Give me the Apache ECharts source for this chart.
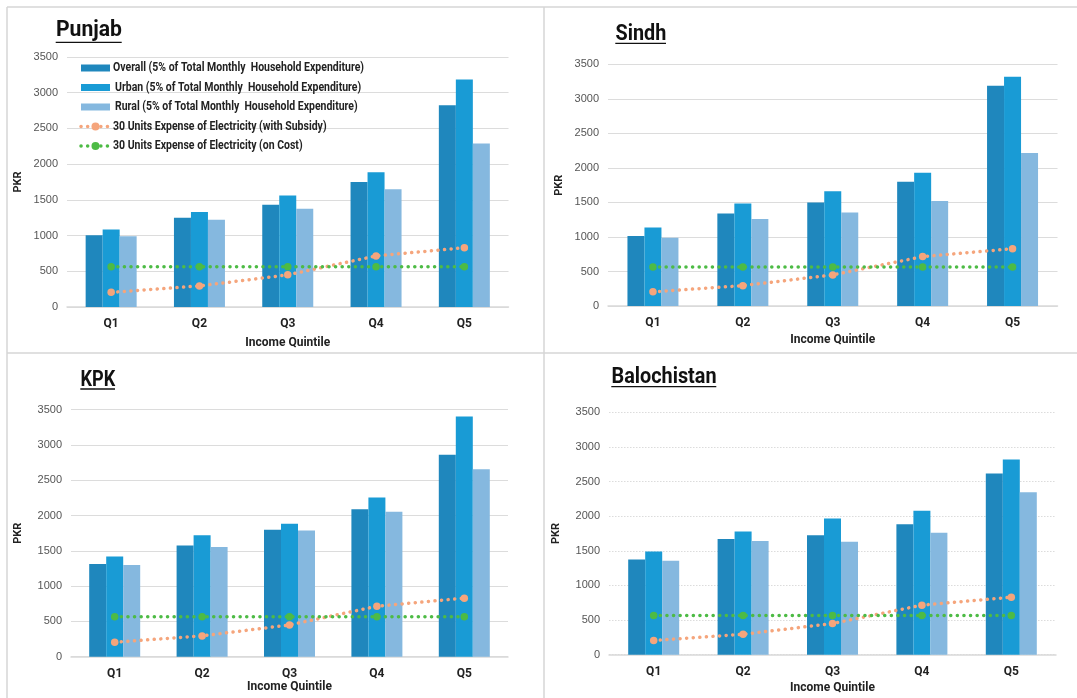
<!DOCTYPE html>
<html>
<head>
<meta charset="utf-8">
<script src="https://cdn.jsdelivr.net/npm/echarts@6/dist/echarts.min.js"></script>
<style>
html,body{margin:0;padding:0;background:#fff;}
#chart{width:1077px;height:698px;}
</style>
</head>
<body>
<div id="chart"></div>
<script>
// ---- data ----
const categories = ['Q1', 'Q2', 'Q3', 'Q4', 'Q5'];
const yTicks = [0, 500, 1000, 1500, 2000, 2500, 3000, 3500];
const seriesNames = [
  'Overall (5% of Total Monthly  Household Expenditure)',
  'Urban (5% of Total Monthly  Household Expenditure)',
  'Rural (5% of Total Monthly  Household Expenditure)',
  '30 Units Expense of Electricity (with Subsidy)',
  '30 Units Expense of Electricity (on Cost)'
];
const regionTitles = ['Punjab', 'Sindh', 'KPK', 'Balochistan'];

const punjabOverall = [1005, 1250, 1430, 1750, 2825];
const punjabUrban   = [1085, 1330, 1560, 1885, 3185];
const punjabRural   = [990, 1220, 1375, 1650, 2290];

const sindhOverall = [1015, 1340, 1500, 1800, 3190];
const sindhUrban   = [1135, 1485, 1660, 1930, 3320];
const sindhRural   = [990, 1260, 1355, 1520, 2215];

const kpkOverall = [1315, 1575, 1800, 2090, 2860];
const kpkUrban   = [1420, 1720, 1885, 2255, 3405];
const kpkRural   = [1300, 1555, 1790, 2055, 2655];

const balochOverall = [1375, 1670, 1725, 1885, 2615];
const balochUrban   = [1490, 1780, 1965, 2080, 2820];
const balochRural   = [1355, 1640, 1630, 1760, 2345];

const withSubsidy = [205, 295, 450, 715, 830];
const onCost      = [565, 565, 565, 565, 565];

// ---- layout / style ----
const colors = ['#1f87bd', '#199bd5', '#85b8df', '#f5a57c', '#4dbb45'];
const boldFont = 'Roboto, "Liberation Sans", sans-serif';
const tickFont = '"Liberation Sans", Arial, sans-serif';

const measureCtx = document.createElement('canvas').getContext('2d');
function textWidth(text, font) { measureCtx.font = font; return measureCtx.measureText(text).width; }

const panels = [
  { bars: [punjabOverall, punjabUrban, punjabRural], grid: {left: 67, top: 57, width: 441.5, height: 250},
    xNameGap: 30, yNameGap: 43, dotted: false },
  { bars: [sindhOverall, sindhUrban, sindhRural], grid: {left: 608, top: 64.3, width: 449.5, height: 241.7},
    xNameGap: 28, yNameGap: 43, dotted: false },
  { bars: [kpkOverall, kpkUrban, kpkRural], grid: {left: 71, top: 409.7, width: 437, height: 247},
    xNameGap: 22, yNameGap: 47, dotted: false },
  { bars: [balochOverall, balochUrban, balochRural], grid: {left: 609, top: 412.3, width: 447, height: 242.4},
    xNameGap: 27, yNameGap: 47, dotted: true }
];

const titlePos = [
  {x: 56, cy: 30.7, ul: [55.7, 121.7, 42.3]},
  {x: 615.5, cy: 34.2, ul: [615.3, 666, 43.3]},
  {x: 80.5, cy: 380, ul: [80.3, 115, 389]},
  {x: 611.5, cy: 377.2, ul: [611.3, 716.3, 386.7]}
];

const grids = [], xAxes = [], yAxes = [], series = [];
panels.forEach((p, i) => {
  grids.push(Object.assign({containLabel: false}, p.grid));
  xAxes.push({
    type: 'category', gridIndex: i, data: categories,
    name: 'Income Quintile', nameLocation: 'middle', nameGap: p.xNameGap,
    nameTextStyle: {fontFamily: boldFont, fontWeight: 'bold', fontSize: 12, color: '#222'},
    axisTick: {show: false},
    axisLine: {show: true, lineStyle: {color: '#d9d9d9', width: 1.5}},
    axisLabel: {fontFamily: boldFont, fontWeight: 'bold', fontSize: 12, color: '#222', margin: 11}
  });
  yAxes.push({
    type: 'value', gridIndex: i, min: yTicks[0], max: yTicks[yTicks.length - 1], interval: yTicks[1] - yTicks[0],
    name: 'PKR', nameLocation: 'middle', nameGap: p.yNameGap, nameRotate: 90,
    nameTextStyle: {fontFamily: boldFont, fontWeight: 'bold', fontSize: 11, color: '#222'},
    axisLine: {show: false}, axisTick: {show: false},
    axisLabel: {fontFamily: tickFont, fontSize: 11, color: '#555', margin: 9, formatter: v => String(v)},
    splitLine: {lineStyle: {color: '#dcdcdc', width: 1.2, type: p.dotted ? [1.5, 1.5] : 'solid'}}
  });
  p.bars.forEach((arr, k) => {
    series.push({
      name: seriesNames[k], type: 'bar', xAxisIndex: i, yAxisIndex: i, data: arr,
      barWidth: 17, barGap: '0%', itemStyle: {color: colors[k]}, z: 2
    });
  });
  [withSubsidy, onCost].forEach((arr, k) => {
    series.push({
      name: seriesNames[3 + k], type: 'line', xAxisIndex: i, yAxisIndex: i, data: arr,
      symbol: 'circle', symbolSize: 7.5, z: 5,
      itemStyle: {color: colors[3 + k]},
      lineStyle: {color: colors[3 + k], width: 3.5, type: [0.1, 6.5], cap: 'round'}
    });
  });
});

const graphics = [];
// panel borders
const bc = '#d6d6d6';
[[7, 7, 1077, 7], [7, 7, 7, 698], [544, 7, 544, 698], [7, 353, 1077, 353]].forEach(s => {
  graphics.push({type: 'line', shape: {x1: s[0], y1: s[1], x2: s[2], y2: s[3]}, style: {stroke: bc, lineWidth: 1.5}, silent: true});
});
// titles (condensed look via horizontal scale)
const titleFont = 'bold 22px ' + boldFont;
regionTitles.forEach((t, i) => {
  const tp = titlePos[i];
  const target = tp.ul[1] - tp.ul[0];
  const sx = target / textWidth(t, titleFont);
  graphics.push({type: 'text', x: tp.x, y: tp.cy, scaleX: sx, z: 10,
    style: {text: t, font: titleFont, fill: '#111', verticalAlign: 'middle', align: 'left'}});
  graphics.push({type: 'line', shape: {x1: tp.ul[0], y1: tp.ul[2], x2: tp.ul[1], y2: tp.ul[2]},
    style: {stroke: '#111', lineWidth: 1.3}, z: 10});
});
// legend (condensed bold text)
const legFont = 'bold 12.5px ' + boldFont;
const legScale = 251 / textWidth(seriesNames[0], legFont);
const legRows = [68, 87.5, 107, 126.5, 146];
const legTextX = [113, 115, 115, 113, 113];
seriesNames.forEach((nm, k) => {
  const cy = legRows[k];
  if (k < 3) {
    graphics.push({type: 'rect', shape: {x: 81, y: cy - 3.5, width: 29, height: 7}, style: {fill: colors[k]}, z: 10});
  } else {
    graphics.push({type: 'line', shape: {x1: 81, y1: cy, x2: 110, y2: cy},
      style: {stroke: colors[k], lineWidth: 3.5, lineDash: [0.1, 6.5], lineCap: 'round'}, z: 10});
    graphics.push({type: 'circle', shape: {cx: 95.5, cy: cy, r: 4}, style: {fill: colors[k]}, z: 10});
  }
  graphics.push({type: 'text', x: legTextX[k], y: cy, scaleX: legScale, z: 10,
    style: {text: nm, font: legFont, fill: '#222', verticalAlign: 'middle', align: 'left'}});
});

const option = {
  animation: false,
  backgroundColor: '#fff',
  grid: grids, xAxis: xAxes, yAxis: yAxes, series: series,
  graphic: graphics
};
const chart = echarts.init(document.getElementById('chart'), null, {renderer: 'canvas'});
chart.setOption(option);
</script>
</body>
</html>
